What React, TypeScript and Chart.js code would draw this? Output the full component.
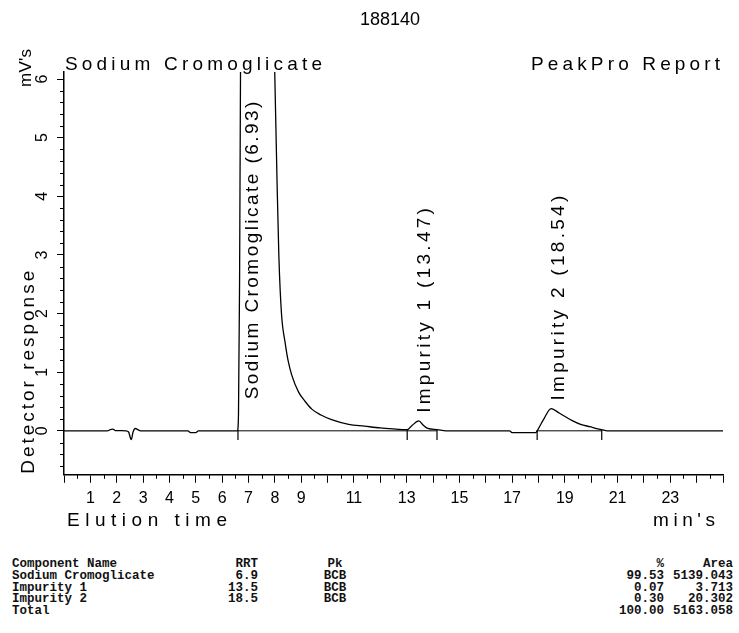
import React, { useEffect, useRef } from 'react';
import { Chart, registerables } from 'chart.js';

Chart.register(...registerables);

// ---------------- data ----------------
const CHART_TITLE = '188140';
const TOP_LEFT_TEXT = 'Sodium Cromoglicate';
const TOP_RIGHT_TEXT = 'PeakPro Report';
const Y_TITLE = 'Detector response';
const Y_UNIT = "mV's";
const X_TITLE = 'Elution time';
const X_UNIT = "min's";

const traceTime = [
  0, 1.65, 1.75, 1.85, 1.95, 2.35, 2.45, 2.55, 2.62, 2.7, 2.8, 2.9,
  4.7, 4.8, 5.0, 5.1, 6.58, 6.62, 6.66, 6.7, 6.8, 6.93, 7.3, 7.8, 7.95,
  8.0, 8.08, 8.15, 8.25, 8.39, 8.5, 8.64, 8.9, 9.15, 9.4, 9.75, 10.15,
  10.8, 11.4, 12.0, 12.6, 12.95, 13.02, 13.2, 13.46, 13.62, 13.8, 14.15,
  14.5, 16.9, 17.0, 17.9, 17.95, 18.2, 18.48, 18.8, 19.3, 19.6, 19.95,
  20.3, 20.6, 25,
];
const traceSignal = [
  0, 0, 0.02, 0.03, 0.005, 0, -0.02, -0.15, -0.02, 0.04, 0.02, 0,
  0, -0.03, -0.03, 0, 0, 0.3, 2.5, 6.5, 20, 30, 22, 10, 7.0,
  6.0, 4.3, 3.0, 2.0, 1.5, 1.2, 0.95, 0.66, 0.5, 0.37, 0.27, 0.19,
  0.11, 0.08, 0.05, 0.03, 0.02, 0.02, 0.09, 0.17, 0.1, 0.04, 0.02,
  0, 0, -0.03, -0.03, 0, 0.2, 0.38, 0.3, 0.17, 0.11, 0.07,
  0.03, 0, 0,
];

const peakNames = ['Sodium Cromoglicate', 'Impurity 1', 'Impurity 2'];
const peakRT = [6.93, 13.47, 18.54];
const peakApex = [30, 0.17, 0.38];
const peakStart = [6.6, 13.02, 17.95];
const peakEnd = [13.02, 14.15, 20.4];

const xTickLabels = [1, 2, 3, 4, 5, 6, 7, 8, 9, 11, 13, 15, 17, 19, 21, 23];
const yTickLabels = [0, 1, 2, 3, 4, 5, 6];

const tableHeader = ['Component Name', 'RRT', 'Pk', '%', 'Area'];
const tableNames = ['Sodium Cromoglicate', 'Impurity 1', 'Impurity 2', 'Total'];
const tableRRT = ['6.9', '13.5', '18.5', ''];
const tablePk = ['BCB', 'BCB', 'BCB', ''];
const tablePct = ['99.53', '0.07', '0.30', '100.00'];
const tableArea = ['5139.043', '3.713', '20.302', '5163.058'];

// ---------------- helpers ----------------
const FONT = '"Liberation Sans", Arial, sans-serif';

function drawFitted(ctx: CanvasRenderingContext2D, text: string, x: number, y: number, width: number) {
  (ctx as any).letterSpacing = '0px';
  const w = ctx.measureText(text).width;
  ctx.textAlign = 'left';
  if (w >= width) {
    ctx.fillText(text, x, y, width);
    return;
  }
  const ls = (width - w) / Math.max(1, text.length - 1);
  (ctx as any).letterSpacing = `${ls}px`;
  ctx.fillText(text, x, y);
  (ctx as any).letterSpacing = '0px';
}

const chromPlugin = {
  id: 'chromText',
  afterDraw(chart: any) {
    const { ctx, chartArea: a } = chart;
    const xs = chart.scales.x;
    const ys = chart.scales.y;
    ctx.save();
    ctx.fillStyle = '#000';
    ctx.strokeStyle = '#000';
    ctx.lineWidth = 1;

    // minor ticks
    ctx.beginPath();
    for (let v = 0.5; v < xs.max; v += 1) {
      const px = Math.round(xs.getPixelForValue(v)) + 0.5;
      ctx.moveTo(px, a.bottom);
      ctx.lineTo(px, a.bottom + 4);
    }
    for (let i = Math.ceil(ys.min / 0.2); i * 0.2 <= ys.max; i++) {
      if (i % 5 === 0) continue;
      const py = Math.round(ys.getPixelForValue(i * 0.2)) + 0.5;
      ctx.moveTo(a.left - 4, py);
      ctx.lineTo(a.left, py);
    }
    ctx.stroke();

    ctx.textBaseline = 'alphabetic';

    // y tick labels (rotated)
    ctx.font = `16px ${FONT}`;
    for (const v of yTickLabels) {
      const py = ys.getPixelForValue(v);
      ctx.save();
      ctx.translate(a.left - 17, py);
      ctx.rotate(-Math.PI / 2);
      ctx.textAlign = 'center';
      ctx.fillText(String(v), 0, 0);
      ctx.restore();
    }

    // header texts
    ctx.font = `19px ${FONT}`;
    drawFitted(ctx, TOP_LEFT_TEXT, a.left + 1, a.top - 2, 257);
    drawFitted(ctx, TOP_RIGHT_TEXT, a.right - 192, a.top - 2, 189);
    drawFitted(ctx, X_TITLE, a.left + 3, a.bottom + 51, 160);
    drawFitted(ctx, X_UNIT, a.right - 70, a.bottom + 51, 62);

    // rotated y title + unit
    ctx.save();
    ctx.translate(34, a.bottom - 1);
    ctx.rotate(-Math.PI / 2);
    drawFitted(ctx, Y_TITLE, 0, 0, 203);
    ctx.restore();
    ctx.save();
    ctx.translate(31, ys.getPixelForValue(6) + 8);
    ctx.rotate(-Math.PI / 2);
    ctx.font = `17px ${FONT}`;
    drawFitted(ctx, Y_UNIT, 0, 0, 38);
    ctx.restore();

    // peak annotations
    ctx.font = `19px ${FONT}`;
    peakNames.forEach((name, i) => {
      const label = `${name} (${peakRT[i].toFixed(2)})`;
      const px = xs.getPixelForValue(peakRT[i]) + 11;
      const py = ys.getPixelForValue(Math.min(peakApex[i], 0.4)) - 8;
      ctx.save();
      ctx.translate(px, py);
      ctx.rotate(-Math.PI / 2);
      drawFitted(ctx, label, 0, 0, label.length * 11.6 - 4);
      ctx.restore();
    });

    ctx.restore();
  },
};

export default function App() {
  const canvasRef = useRef<HTMLCanvasElement | null>(null);

  useEffect(() => {
    const canvas = canvasRef.current;
    if (!canvas) return;

    const trace = traceTime.map((t, i) => ({ x: t, y: traceSignal[i] }));
    const baseline: any[] = [];
    peakStart.forEach((s, i) => {
      baseline.push({ x: s, y: 0 });
      baseline.push({ x: peakEnd[i], y: 0 });
      baseline.push({ x: peakEnd[i] + 0.001, y: null });
    });
    const markerTimes = Array.from(new Set([...peakStart, ...peakEnd]));
    const markers = markerTimes.map((t) => ({ x: t, y: -0.07 }));

    const chart = new Chart(canvas, {
      type: 'line',
      data: {
        datasets: [
          {
            label: 'Signal',
            data: trace,
            borderColor: '#000',
            borderWidth: 1.3,
            pointRadius: 0,
            cubicInterpolationMode: 'monotone',
            fill: false,
          },
          {
            label: 'Baseline',
            data: baseline,
            borderColor: '#000',
            borderWidth: 1,
            pointRadius: 0,
            spanGaps: false,
            fill: false,
          },
          {
            label: 'Peak marks',
            data: markers,
            showLine: false,
            pointStyle: 'line',
            rotation: 90,
            pointRadius: 5,
            borderColor: '#000',
            borderWidth: 1.2,
          } as any,
        ],
      },
      options: {
        animation: false,
        responsive: false,
        parsing: false as any,
        layout: { padding: { left: 57, right: 16, top: 0, bottom: 31 } },
        plugins: {
          legend: { display: false },
          tooltip: { enabled: false },
          title: {
            display: true,
            text: CHART_TITLE,
            color: '#000',
            font: { family: FONT, size: 18, weight: 'normal' as any },
            padding: { top: 9, bottom: 41.4 },
          },
        },
        scales: {
          x: {
            type: 'linear',
            min: 0,
            max: 25,
            border: { display: true, color: '#000', width: 1.5 },
            grid: { drawOnChartArea: false, drawTicks: true, tickLength: 8, color: '#000', lineWidth: 1 },
            ticks: {
              stepSize: 1,
              includeBounds: false,
              autoSkip: false,
              maxRotation: 0,
              minRotation: 0,
              padding: 6,
              color: '#000',
              font: { family: FONT, size: 16 },
              callback: (v: any) => (xTickLabels.includes(Number(v)) ? String(v) : ''),
            },
          },
          y: {
            type: 'linear',
            min: -0.75,
            max: 6.12,
            border: { display: true, color: '#000', width: 1.5 },
            grid: { drawOnChartArea: false, drawTicks: true, tickLength: 7, color: '#000', lineWidth: 1 },
            ticks: {
              display: false,
              stepSize: 1,
              includeBounds: false,
            },
          },
        },
      },
      plugins: [chromPlugin],
    });

    return () => chart.destroy();
  }, []);

  const rows = [
    tableHeader,
    ...tableNames.map((n, i) => [n, tableRRT[i], tablePk[i], tablePct[i], tableArea[i]]),
  ];

  return (
    <div style={{ position: 'absolute', left: 0, top: 0, width: 739, height: 633, background: '#fff' }}>
      <canvas ref={canvasRef} width={739} height={545} style={{ display: 'block', width: 739, height: 545 }} />
      <div
        style={{
          position: 'absolute',
          left: 0,
          top: 559,
          width: 739,
          fontFamily: '"Liberation Mono", monospace',
          fontWeight: 'bold',
          fontSize: 12.5,
          lineHeight: '11.75px',
          color: '#111',
          whiteSpace: 'pre',
        }}
      >
        {rows.map((r, i) => (
          <div key={i} style={{ position: 'relative', height: 11.75 }}>
            <span style={{ position: 'absolute', left: 12 }}>{r[0]}</span>
            <span style={{ position: 'absolute', right: 481 }}>{r[1]}</span>
            <span style={{ position: 'absolute', left: 305, width: 60, textAlign: 'center' }}>{r[2]}</span>
            <span style={{ position: 'absolute', right: 75 }}>{r[3]}</span>
            <span style={{ position: 'absolute', right: 6 }}>{r[4]}</span>
          </div>
        ))}
      </div>
    </div>
  );
}
